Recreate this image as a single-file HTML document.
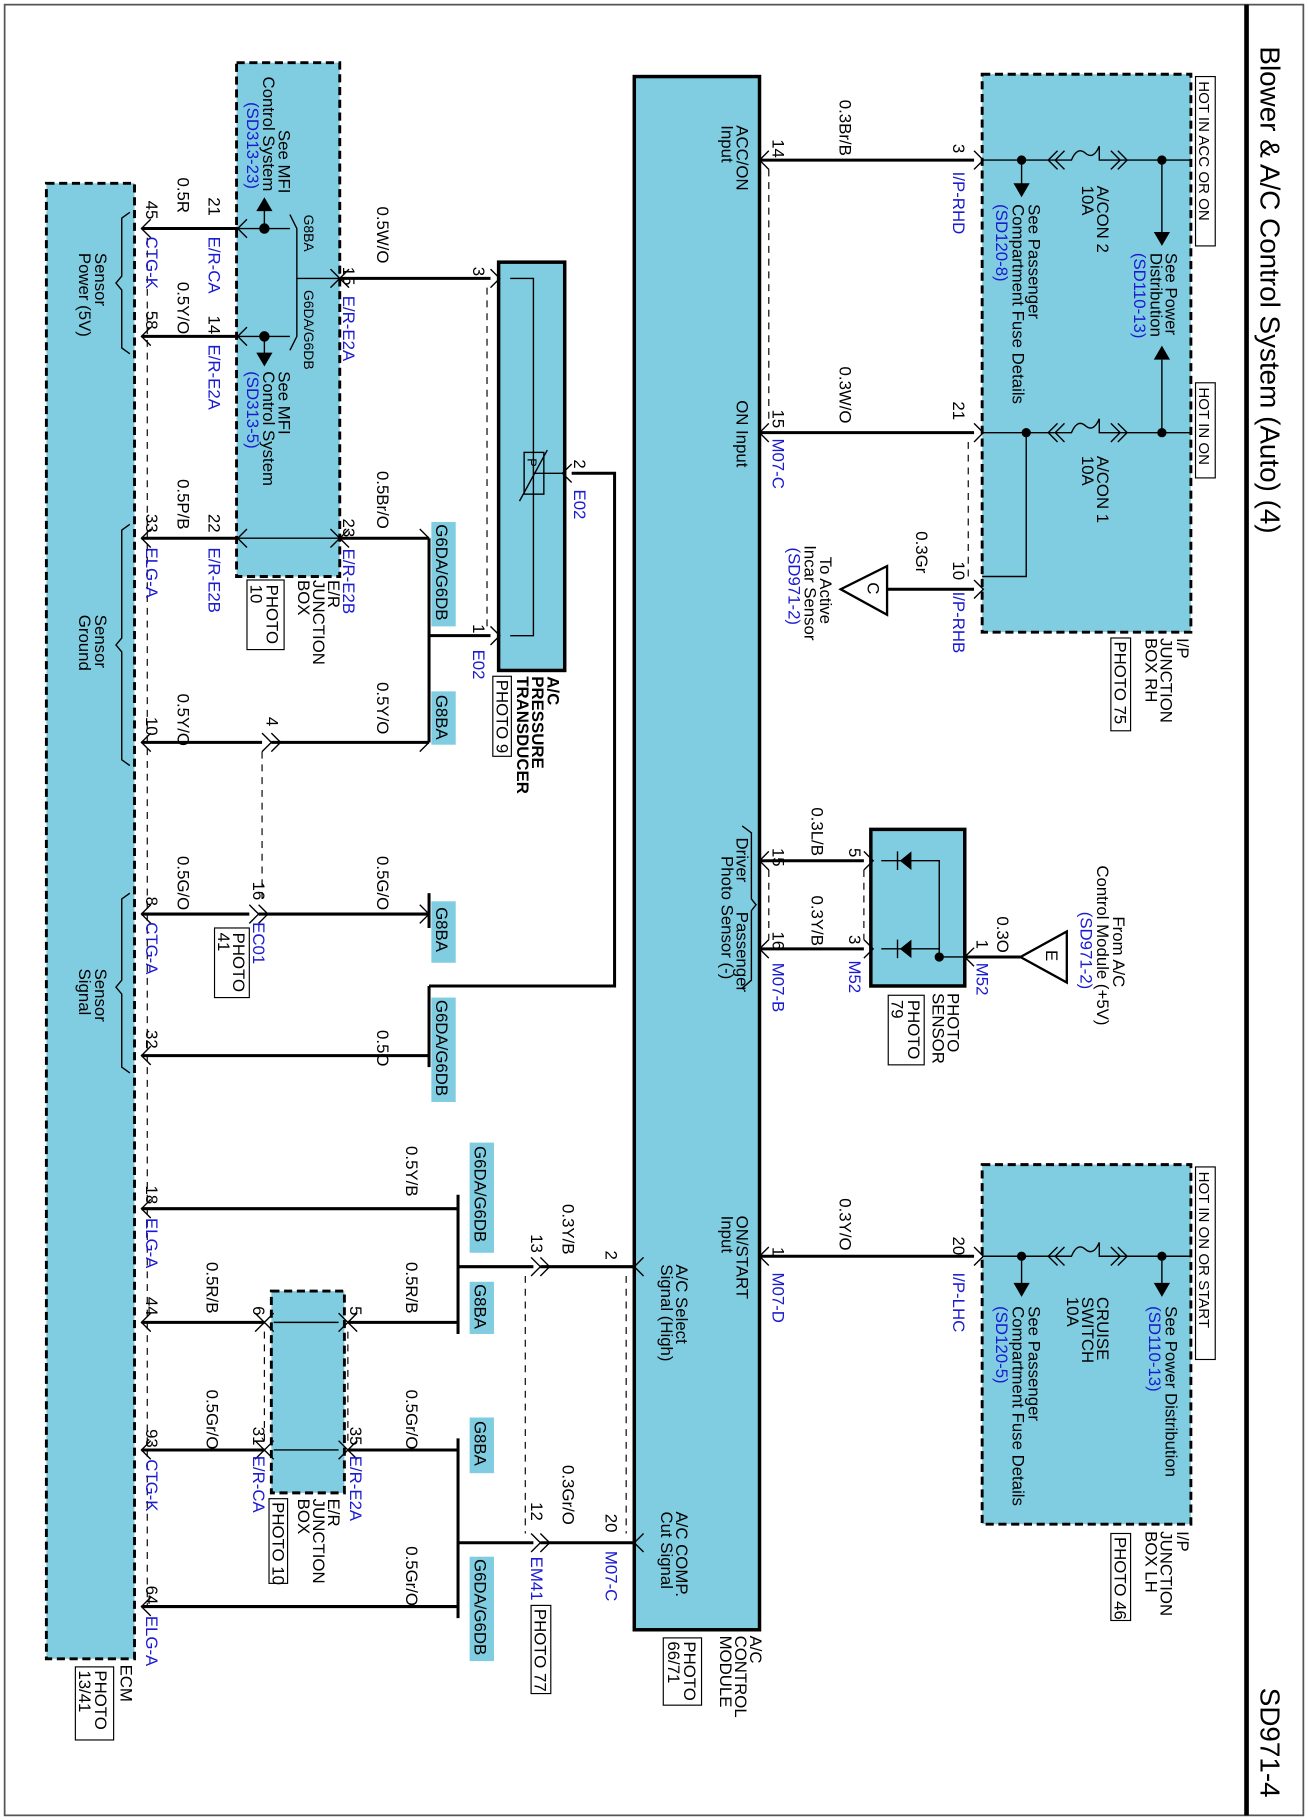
<!DOCTYPE html>
<html><head><meta charset="utf-8"><style>
html,body{margin:0;padding:0;background:#fff;}
svg{display:block}
text{font-family:"Liberation Sans",sans-serif;font-size:14.5px;fill:#000}
.b{fill:#1a1ad0}
.w{stroke:#000;stroke-width:2.6;fill:none}
.t{stroke:#000;stroke-width:1.2;fill:none}
.d{stroke:#000;stroke-width:1;stroke-dasharray:6,5;fill:none}
.box{fill:#80cde1;stroke:#000;stroke-width:2.5;stroke-dasharray:7,4}
.hl{fill:#80cde1}
</style></head><body>
<svg width="1308" height="1820" viewBox="0 0 1128 1569" preserveAspectRatio="none" xmlns="http://www.w3.org/2000/svg">
<rect x="4" y="4" width="1120" height="1561" fill="none" stroke="#555" stroke-width="1.5"/>
<line x1="1075" y1="4" x2="1075" y2="1565" stroke="#000" stroke-width="4"/>
<text transform="translate(1087 40) rotate(90)" style="font-size:24px">Blower &amp; A/C Control System (Auto) (4)</text>
<text transform="translate(1087 1455) rotate(90)" style="font-size:24px">SD971-4</text>

<!-- boxes -->
<rect x="547" y="66" width="108" height="1339" fill="#80cde1" stroke="#000" stroke-width="3"/>
<rect class="box" x="847" y="64" width="180" height="481"/>
<rect class="box" x="847" y="1004" width="180" height="310"/>
<rect class="box" x="40" y="158" width="76" height="1272"/>
<rect class="box" x="204" y="54" width="89" height="443"/>
<rect class="box" x="234" y="1113" width="63" height="174"/>
<rect x="430" y="226" width="57" height="352" fill="#80cde1" stroke="#000" stroke-width="3"/>
<rect x="751" y="715" width="81" height="135" fill="#80cde1" stroke="#000" stroke-width="3"/>

<!-- fuses -->
<path class="t" d="M847 138 H924 q5 -12 12 -6 q7 6 12 -6 M948 126 V138 H1027"/>
<path class="t" d="M847 373 H924 q5 -12 12 -6 q7 6 12 -6 M948 361 V373 H1027"/>
<path class="t" d="M847 1083 H924 q5 -12 12 -6 q7 6 12 -6 M948 1071 V1083 H1027"/>
<path class="t" d="M912 130 L904 138 L912 146 M918 130 L910 138 L918 146 M958 130 L966 138 L958 146 M964 130 L972 138 L964 146"/>
<path class="t" d="M912 365 L904 373 L912 381 M918 365 L910 373 L918 381 M958 365 L966 373 L958 381 M964 365 L972 373 L964 381"/>
<path class="t" d="M912 1075 L904 1083 L912 1091 M918 1075 L910 1083 L918 1091 M958 1075 L966 1083 L958 1091 M964 1075 L972 1083 L964 1091"/>

<!-- I/P RH box internals -->
<circle cx="1002" cy="138" r="4"/><circle cx="1002" cy="373" r="4"/>
<circle cx="881" cy="138" r="4"/><circle cx="885" cy="373" r="4"/>
<path class="t" d="M1002 138 V200 M1002 310 V373 M881 138 V160 M885 373 V497 H847"/>
<path d="M995 200 L1009 200 L1002 212Z M995 310 L1009 310 L1002 298Z M874 158 L888 158 L881 170Z"/>
<rect x="1031" y="66" width="17" height="146" fill="#fff" stroke="#000"/>
<text transform="translate(1034 70) rotate(90)" style="font-size:13px">HOT IN ACC OR ON</text>
<rect x="1031" y="330" width="17" height="82" fill="#fff" stroke="#000"/>
<text transform="translate(1034 334) rotate(90)" style="font-size:13px">HOT IN ON</text>
<text transform="translate(1005 218) rotate(90)">See Power</text>
<text transform="translate(992 218) rotate(90)">Distribution</text>
<text class="b" transform="translate(978 218) rotate(90)">(SD110-13)</text>
<text transform="translate(946 160) rotate(90)">A/CON 2</text>
<text transform="translate(933 160) rotate(90)">10A</text>
<text transform="translate(946 393) rotate(90)">A/CON 1</text>
<text transform="translate(933 393) rotate(90)">10A</text>
<text transform="translate(887 176) rotate(90)">See Passenger</text>
<text transform="translate(873 176) rotate(90)">Compartment Fuse Details</text>
<text class="b" transform="translate(859 176) rotate(90)">(SD120-8)</text>
<text transform="translate(1015 550) rotate(90)">I/P</text>
<text transform="translate(1001 550) rotate(90)">JUNCTION</text>
<text transform="translate(988 550) rotate(90)">BOX RH</text>
<rect x="958" y="550" width="17" height="80" fill="#fff" stroke="#000"/>
<text transform="translate(961 553) rotate(90)">PHOTO 75</text>

<!-- I/P LH box -->
<circle cx="1002" cy="1083" r="4"/><circle cx="881" cy="1083" r="4"/>
<path class="t" d="M1002 1083 V1108 M881 1083 V1108"/>
<path d="M995 1106 L1009 1106 L1002 1118Z M874 1106 L888 1106 L881 1118Z"/>
<rect x="1031" y="1006" width="17" height="166" fill="#fff" stroke="#000"/>
<text transform="translate(1034 1010) rotate(90)" style="font-size:13px">HOT IN ON OR START</text>
<text transform="translate(1005 1126) rotate(90)">See Power Distribution</text>
<text class="b" transform="translate(991 1126) rotate(90)">(SD110-13)</text>
<text transform="translate(946 1118) rotate(90)">CRUISE</text>
<text transform="translate(933 1118) rotate(90)">SWITCH</text>
<text transform="translate(920 1118) rotate(90)">10A</text>
<text transform="translate(887 1126) rotate(90)">See Passenger</text>
<text transform="translate(873 1126) rotate(90)">Compartment Fuse Details</text>
<text class="b" transform="translate(859 1126) rotate(90)">(SD120-5)</text>
<text transform="translate(1015 1320) rotate(90)">I/P</text>
<text transform="translate(1001 1320) rotate(90)">JUNCTION</text>
<text transform="translate(988 1320) rotate(90)">BOX LH</text>
<rect x="958" y="1322" width="17" height="75" fill="#fff" stroke="#000"/>
<text transform="translate(961 1325) rotate(90)">PHOTO 46</text>

<!-- right wires -->
<path class="w" d="M655 138 H840 M655 373 H840 M765 508 H840 M655 1083 H840"/>
<path class="t" d="M663 130 L655 138 L663 146 M840 130 L848 138 L840 146 M663 365 L655 373 L663 381 M840 365 L848 373 L840 381 M840 500 L848 508 L840 516 M663 1075 L655 1083 L663 1091 M840 1075 L848 1083 L840 1091"/>
<path class="d" d="M663 146 V365 M835 381 V500"/>
<path d="M725 508 L765 488 L765 530Z" fill="#fff" stroke="#000" stroke-width="2"/>
<text transform="translate(748 502) rotate(90)">C</text>
<text transform="translate(822 124) rotate(90)">3</text>
<text class="b" transform="translate(822 148) rotate(90)">I/P-RHD</text>
<text transform="translate(822 346) rotate(90)">21</text>
<text transform="translate(822 484) rotate(90)">10</text>
<text class="b" transform="translate(822 510) rotate(90)">I/P-RHB</text>
<text transform="translate(724 86) rotate(90)">0.3Br/B</text>
<text transform="translate(724 316) rotate(90)">0.3W/O</text>
<text transform="translate(790 458) rotate(90)">0.3Gr</text>
<text transform="translate(666 120) rotate(90)">14</text>
<text transform="translate(666 353) rotate(90)">15</text>
<text class="b" transform="translate(666 378) rotate(90)">M07-C</text>
<text transform="translate(635 108) rotate(90)">ACC/ON</text>
<text transform="translate(622 108) rotate(90)">Input</text>
<text transform="translate(635 345) rotate(90)">ON Input</text>
<text transform="translate(707 480) rotate(90)">To Active</text>
<text transform="translate(694 470) rotate(90)">Incar Sensor</text>
<text class="b" transform="translate(680 472) rotate(90)">(SD971-2)</text>
<text transform="translate(822 1066) rotate(90)">20</text>
<text class="b" transform="translate(822 1097) rotate(90)">I/P-LHC</text>
<text transform="translate(724 1033) rotate(90)">0.3Y/O</text>
<text transform="translate(666 1075) rotate(90)">1</text>
<text class="b" transform="translate(666 1097) rotate(90)">M07-D</text>
<text transform="translate(635 1048) rotate(90)">ON/START</text>
<text transform="translate(622 1048) rotate(90)">Input</text>

<!-- photo sensor -->
<path class="w" d="M655 742 H745 M655 818 H745 M832 825 H880"/>
<path class="t" d="M663 734 L655 742 L663 750 M663 810 L655 818 L663 826 M745 734 L753 742 L745 750 M745 810 L753 818 L745 826 M840 817 L832 825 L840 833"/>
<path class="d" d="M663 750 V810 M745 750 V810"/>
<path class="t" d="M760 742 H810 V825 H832 M760 818 H810"/>
<circle cx="810" cy="825" r="4"/>
<path d="M786 734 L786 750 L776 742Z M786 810 L786 826 L776 818Z"/>
<path class="t" d="M774 734 V750 M774 810 V826"/>
<path d="M880 825 L920 803 L920 847Z" fill="#fff" stroke="#000" stroke-width="2"/>
<text transform="translate(902 819) rotate(90)">E</text>
<text transform="translate(960 790) rotate(90)">From A/C</text>
<text transform="translate(946 746) rotate(90)">Control Module (+5V)</text>
<text class="b" transform="translate(932 786) rotate(90)">(SD971-2)</text>
<text transform="translate(860 790) rotate(90)">0.3O</text>
<text transform="translate(842 810) rotate(90)">1</text>
<text class="b" transform="translate(842 830) rotate(90)">M52</text>
<text transform="translate(732 731) rotate(90)">5</text>
<text transform="translate(732 806) rotate(90)">3</text>
<text class="b" transform="translate(732 828) rotate(90)">M52</text>
<text transform="translate(700 696) rotate(90)">0.3L/B</text>
<text transform="translate(700 772) rotate(90)">0.3Y/B</text>
<text transform="translate(666 731) rotate(90)">15</text>
<text transform="translate(666 803) rotate(90)">16</text>
<text class="b" transform="translate(666 830) rotate(90)">M07-B</text>
<text transform="translate(817 856) rotate(90)">PHOTO</text>
<text transform="translate(804 856) rotate(90)">SENSOR</text>
<rect x="766" y="858" width="31" height="60" fill="#fff" stroke="#000"/>
<text transform="translate(783 862) rotate(90)">PHOTO</text>
<text transform="translate(769 862) rotate(90)">79</text>
<text transform="translate(635 722) rotate(90)">Driver</text>
<text transform="translate(635 786) rotate(90)">Passenger</text>
<text transform="translate(622 738) rotate(90)">Photo Sensor (-)</text>
<path class="t" d="M640 712 L648 718 V775 L652 780 L648 785 V845 L640 852"/>

<!-- module labels -->
<text transform="translate(647 1410) rotate(90)">A/C</text>
<text transform="translate(634 1410) rotate(90)">CONTROL</text>
<text transform="translate(621 1410) rotate(90)">MODULE</text>
<rect x="572" y="1412" width="33" height="58" fill="#fff" stroke="#000"/>
<text transform="translate(590 1415) rotate(90)">PHOTO</text>
<text transform="translate(576 1415) rotate(90)">66/71</text>
<text transform="translate(583 1090) rotate(90)">A/C Select</text>
<text transform="translate(570 1090) rotate(90)">Signal (High)</text>
<text transform="translate(583 1303) rotate(90)">A/C COMP.</text>
<text transform="translate(570 1303) rotate(90)">Cut Signal</text>

<!-- transducer -->
<path class="w" d="M293 240 H423 M370 548 H423 M493 408 H530 V850 H370 M370 464 V548 M370 548 V640"/>
<path class="t" d="M423 232 L431 240 L423 248 M423 540 L431 548 L423 556 M493 400 L485 408 L493 416"/>
<path class="d" d="M420 248 V540"/>
<path class="t" d="M440 240 H460 V548 H440 M460 408 H485"/>
<rect x="452" y="390" width="17" height="36" fill="none" stroke="#000" stroke-width="1.2"/>
<path class="t" d="M448 432 L472 388"/>
<text transform="translate(455 395) rotate(90)" style="font-size:11px">P</text>
<text transform="translate(408 230) rotate(90)">3</text>
<text transform="translate(495 396) rotate(90)">2</text>
<text class="b" transform="translate(495 422) rotate(90)">E02</text>
<text transform="translate(408 538) rotate(90)">1</text>
<text class="b" transform="translate(408 560) rotate(90)">E02</text>
<text transform="translate(472 583) rotate(90)" style="font-weight:bold">A/C</text>
<text transform="translate(459 583) rotate(90)" style="font-weight:bold">PRESSURE</text>
<text transform="translate(446 583) rotate(90)" style="font-weight:bold">TRANSDUCER</text>
<rect x="425" y="583" width="16" height="69" fill="#fff" stroke="#000"/>
<text transform="translate(428 586) rotate(90)">PHOTO 9</text>

<!-- E/R box top -->
<path class="w" d="M122 197 H205 M122 290 H205 M122 464 H205 M293 464 H370"/>
<path class="t" d="M205 197 H250 M205 290 H250 M250 185 L256 197 V290 L250 302 M256 240 H293 M205 464 H293 M228 197 V180 M228 290 V305"/>
<circle cx="228" cy="197" r="4.5"/><circle cx="228" cy="290" r="4.5"/>
<path d="M221 182 L235 182 L228 170Z M221 304 L235 304 L228 316Z"/>
<path class="t" d="M130 189 L122 197 L130 205 M213 189 L205 197 L213 205 M130 282 L122 290 L130 298 M213 282 L205 290 L213 298 M130 456 L122 464 L130 472 M213 456 L205 464 L213 472 M285 232 L293 240 L285 248 M285 456 L293 464 L285 472 M301 232 L293 240 L301 248 M301 456 L293 464 L301 472"/>
<text transform="translate(240 112) rotate(90)">See MFI</text>
<text transform="translate(227 66) rotate(90)">Control System</text>
<text class="b" transform="translate(213 88) rotate(90)">(SD313-23)</text>
<text transform="translate(240 320) rotate(90)">See MFI</text>
<text transform="translate(227 320) rotate(90)">Control System</text>
<text class="b" transform="translate(213 320) rotate(90)">(SD313-5)</text>
<text transform="translate(262 185) rotate(90)" style="font-size:12px">G8BA</text>
<text transform="translate(262 250) rotate(90)" style="font-size:12px">G6DA/G6DB</text>
<text transform="translate(296 230) rotate(90)">15</text>
<text class="b" transform="translate(296 255) rotate(90)">E/R-E2A</text>
<text transform="translate(325 178) rotate(90)">0.5W/O</text>
<text transform="translate(296 447) rotate(90)">23</text>
<text class="b" transform="translate(296 473) rotate(90)">E/R-E2B</text>
<text transform="translate(325 406) rotate(90)">0.5Br/O</text>
<text transform="translate(180 170) rotate(90)">21</text>
<text class="b" transform="translate(180 204) rotate(90)">E/R-CA</text>
<text transform="translate(180 272) rotate(90)">14</text>
<text class="b" transform="translate(180 297) rotate(90)">E/R-E2A</text>
<text transform="translate(180 443) rotate(90)">22</text>
<text class="b" transform="translate(180 472) rotate(90)">E/R-E2B</text>
<text transform="translate(283 500) rotate(90)">E/R</text>
<text transform="translate(270 500) rotate(90)">JUNCTION</text>
<text transform="translate(257 500) rotate(90)">BOX</text>
<rect x="213" y="500" width="32" height="60" fill="#fff" stroke="#000"/>
<text transform="translate(230 504) rotate(90)">PHOTO</text>
<text transform="translate(216 504) rotate(90)">10</text>

<!-- ECM side -->
<path class="d" d="M127 205 V1385"/>
<text transform="translate(82 218) rotate(90)">Sensor</text>
<text transform="translate(68 218) rotate(90)">Power (5V)</text>
<text transform="translate(82 530) rotate(90)">Sensor</text>
<text transform="translate(68 530) rotate(90)">Ground</text>
<text transform="translate(82 835) rotate(90)">Sensor</text>
<text transform="translate(68 835) rotate(90)">Signal</text>
<path class="t" d="M112 183 L105 188 V238 L100 244 L105 250 V300 L112 305 M112 452 L105 457 V550 L100 556 L105 562 V655 L112 660 M112 770 L105 775 V845 L100 851 L105 857 V920 L112 925"/>
<text transform="translate(104 1435) rotate(90)">ECM</text>
<rect x="65" y="1437" width="33" height="63" fill="#fff" stroke="#000"/>
<text transform="translate(82 1440) rotate(90)">PHOTO</text>
<text transform="translate(68 1440) rotate(90)">13/41</text>
<text transform="translate(126 173) rotate(90)">45</text>
<text class="b" transform="translate(126 204) rotate(90)">CTG-K</text>
<text transform="translate(126 268) rotate(90)">58</text>
<text transform="translate(126 443) rotate(90)">33</text>
<text class="b" transform="translate(126 472) rotate(90)">ELG-A</text>
<text transform="translate(126 618) rotate(90)">10</text>
<text transform="translate(126 773) rotate(90)">8</text>
<text class="b" transform="translate(126 795) rotate(90)">CTG-A</text>
<text transform="translate(126 888) rotate(90)">32</text>
<text transform="translate(126 1022) rotate(90)">18</text>
<text class="b" transform="translate(126 1050) rotate(90)">ELG-A</text>
<text transform="translate(126 1118) rotate(90)">44</text>
<text transform="translate(126 1232) rotate(90)">93</text>
<text class="b" transform="translate(126 1258) rotate(90)">CTG-K</text>
<text transform="translate(126 1367) rotate(90)">64</text>
<text class="b" transform="translate(126 1393) rotate(90)">ELG-A</text>
<text transform="translate(153 153) rotate(90)">0.5R</text>
<text transform="translate(153 243) rotate(90)">0.5Y/O</text>
<text transform="translate(153 413) rotate(90)">0.5P/B</text>
<text transform="translate(153 598) rotate(90)">0.5Y/O</text>
<text transform="translate(153 738) rotate(90)">0.5G/O</text>

<!-- middle wires -->
<path class="w" d="M122 640 H226 M234 640 H370 M122 788 H215 M223 788 H370 M122 910 H370 M370 850 V920"/>
<path class="t" d="M130 632 L122 640 L130 648 M226 632 L234 640 L226 648 M234 632 L242 640 L234 648 M130 780 L122 788 L130 796 M215 780 L223 788 L215 796 M223 780 L231 788 L223 796 M130 902 L122 910 L130 918 M370 464 L362 456 M370 640 L362 648 M370 788 L362 780 M370 788 L362 796"/>
<path class="d" d="M226 648 V780"/>
<path class="w" d="M370 770 V800"/>
<text transform="translate(230 618) rotate(90)">4</text>
<text transform="translate(218 760) rotate(90)">16</text>
<text class="b" transform="translate(218 795) rotate(90)">EC01</text>
<rect x="185" y="800" width="30" height="60" fill="#fff" stroke="#000"/>
<text transform="translate(201 804) rotate(90)">PHOTO</text>
<text transform="translate(188 804) rotate(90)">41</text>
<text transform="translate(325 588) rotate(90)">0.5Y/O</text>
<text transform="translate(325 738) rotate(90)">0.5G/O</text>
<text transform="translate(325 888) rotate(90)">0.5O</text>
<rect class="hl" x="372" y="450" width="21" height="90"/>
<text transform="translate(376 452) rotate(90)">G6DA/G6DB</text>
<rect class="hl" x="372" y="596" width="21" height="46"/>
<text transform="translate(376 599) rotate(90)">G8BA</text>
<rect class="hl" x="372" y="777" width="21" height="53"/>
<text transform="translate(376 782) rotate(90)">G8BA</text>
<rect class="hl" x="372" y="860" width="21" height="90"/>
<text transform="translate(376 862) rotate(90)">G6DA/G6DB</text>

<!-- bottom wires -->
<path class="w" d="M122 1042 H395 M395 1030 V1150 M395 1092 H460 M466 1092 H547 M122 1140 H228 M300 1140 H395 M122 1250 H228 M300 1250 H395 M395 1240 V1395 M395 1330 H460 M466 1330 H547 M122 1385 H395"/>
<path class="t" d="M130 1034 L122 1042 L130 1050 M130 1132 L122 1140 L130 1148 M130 1242 L122 1250 L130 1258 M130 1377 L122 1385 L130 1393 M220 1132 L228 1140 L220 1148 M236 1132 L228 1140 L236 1148 M220 1242 L228 1250 L220 1258 M236 1242 L228 1250 L236 1258 M292 1132 L300 1140 L292 1148 M308 1132 L300 1140 L308 1148 M292 1242 L300 1250 L292 1258 M308 1242 L300 1250 L308 1258 M458 1084 L466 1092 L458 1100 M466 1084 L474 1092 L466 1100 M458 1322 L466 1330 L458 1338 M466 1322 L474 1330 L466 1338 M555 1084 L547 1092 L555 1100 M555 1322 L547 1330 L555 1338 M236 1140 H292 M236 1250 H292"/>
<path class="d" d="M228 1148 V1242 M300 1148 V1242 M453 1100 V1322 M540 1100 V1322"/>
<text transform="translate(350 988) rotate(90)">0.5Y/B</text>
<text transform="translate(350 1088) rotate(90)">0.5R/B</text>
<text transform="translate(350 1198) rotate(90)">0.5Gr/O</text>
<text transform="translate(350 1333) rotate(90)">0.5Gr/O</text>
<text transform="translate(178 1088) rotate(90)">0.5R/B</text>
<text transform="translate(178 1198) rotate(90)">0.5Gr/O</text>
<text transform="translate(218 1126) rotate(90)">6</text>
<text transform="translate(302 1126) rotate(90)">5</text>
<text transform="translate(218 1230) rotate(90)">31</text>
<text class="b" transform="translate(218 1255) rotate(90)">E/R-CA</text>
<text transform="translate(302 1230) rotate(90)">35</text>
<text class="b" transform="translate(302 1255) rotate(90)">E/R-E2A</text>
<text transform="translate(283 1292) rotate(90)">E/R</text>
<text transform="translate(270 1292) rotate(90)">JUNCTION</text>
<text transform="translate(257 1292) rotate(90)">BOX</text>
<rect x="232" y="1292" width="16" height="73" fill="#fff" stroke="#000"/>
<text transform="translate(235 1295) rotate(90)">PHOTO 10</text>
<rect class="hl" x="405" y="985" width="21" height="95"/>
<text transform="translate(409 988) rotate(90)">G6DA/G6DB</text>
<rect class="hl" x="405" y="1105" width="21" height="45"/>
<text transform="translate(409 1107) rotate(90)">G8BA</text>
<rect class="hl" x="405" y="1222" width="21" height="48"/>
<text transform="translate(409 1225) rotate(90)">G8BA</text>
<rect class="hl" x="405" y="1342" width="21" height="90"/>
<text transform="translate(409 1344) rotate(90)">G6DA/G6DB</text>
<text transform="translate(522 1078) rotate(90)">2</text>
<text transform="translate(458 1064) rotate(90)">13</text>
<text transform="translate(485 1038) rotate(90)">0.3Y/B</text>
<text transform="translate(522 1305) rotate(90)">20</text>
<text class="b" transform="translate(522 1337) rotate(90)">M07-C</text>
<text transform="translate(458 1295) rotate(90)">12</text>
<text transform="translate(485 1263) rotate(90)">0.3Gr/O</text>
<text class="b" transform="translate(458 1342) rotate(90)">EM41</text>
<rect x="458" y="1384" width="17" height="76" fill="#fff" stroke="#000"/>
<text transform="translate(461 1387) rotate(90)">PHOTO 77</text>
</svg>
</body></html>
